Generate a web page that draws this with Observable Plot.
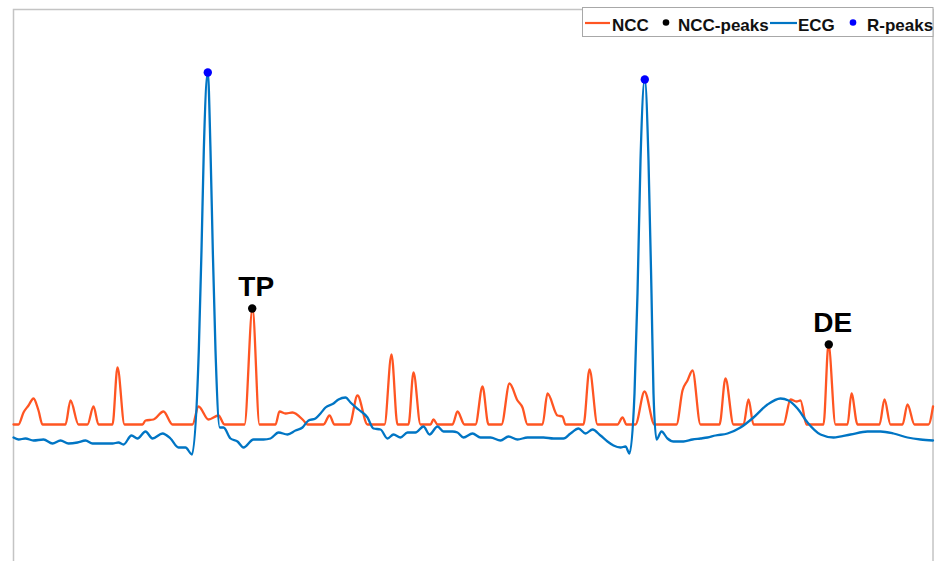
<!DOCTYPE html>
<html><head><meta charset="utf-8">
<script src="https://cdn.jsdelivr.net/npm/d3@7"></script>
<script src="https://cdn.jsdelivr.net/npm/@observablehq/plot@0.6"></script>
<style>
html,body{margin:0;padding:0;overflow:hidden;background:#fff;width:938px;height:561px}
#chart{position:relative;width:938px;height:561px;overflow:hidden}
#legend{position:absolute;left:0;top:0;pointer-events:none}
</style></head><body><div id="chart"></div>
<script>
// NCC series (sample index, value)
const nccT = [0,5,10,15,20,25,29,52,57,65,74,80,85,99,104,111,129,132,140,150,159,179,185,195,205,211,231,239,246,262,266,272,279,290,294,310,316,321,336,344,354,371,378,384,395,400,407,417,420,424,439,444,451,462,469,475,488,496,504,509,514,529,534,544,549,552,570,576,584,604,609,613,622,631,641,663,669,674,679,687,706,712,720,730,735,740,770,777,783,787,793,810,815,822,834,838,844,866,871,877,889,894,901,915,919.5];
const nccV = [0,0,0.12,0.19,0.26,0.14,0,0,0.24,0,0,0.18,0,0,0.57,0,0,0.04,0.05,0.13,0,0,0.18,0.05,0.09,0,0,1.16,0,0,0.13,0.11,0.12,0.04,0,0,0.09,0,0,0.29,0,0,0.70,0,0,0.52,0,0,0.05,0,0,0.13,0,0,0.38,0,0,0.41,0.24,0.17,0,0,0.31,0.09,0.08,0,0,0.55,0,0,0.07,0,0,0.33,0,0,0.34,0.44,0.54,0,0,0.46,0,0,0.25,0,0,0.25,0.23,0.24,0,0,0.80,0,0,0.31,0,0,0.25,0,0,0.20,0,0,0.18];
// ECG series (sample index, value)
const ecgT = [0,5,12,20,30,39,47,55,64,72,79,90,99,105,110,118,124,132,139,149,157,165,172,178.5,185.3,188,190.3,194.3,197,199.3,202,206.3,210,217,224,230,240,250,257,265,274,282,289,295,302,307,312,320,325,332,337,345,354,360,367,374,380,387,394,402,410,416,424,430,439,444,450,459,467,477,487,495,504,514,522,530,540,550,557,565,572,579,587,594,600,607,612,616,621,624,627,631.3,635,638,640,643,648,654,660,670,679,687,694,702,714,727,740,754,767,775,784,794,807,820,837,854,867,880,894,907,919.5];
const ecgV = [-0.13,-0.15,-0.14,-0.16,-0.15,-0.19,-0.16,-0.19,-0.18,-0.16,-0.19,-0.19,-0.19,-0.18,-0.20,-0.11,-0.14,-0.07,-0.14,-0.09,-0.14,-0.23,-0.23,-0.30,0.74,1.74,2.74,3.52,2.74,1.74,0.74,-0.03,-0.03,-0.14,-0.17,-0.23,-0.15,-0.15,-0.14,-0.08,-0.10,-0.06,-0.03,0.04,0.06,0.11,0.17,0.21,0.25,0.27,0.22,0.15,0.07,-0.04,-0.05,-0.14,-0.10,-0.13,-0.08,-0.08,-0.02,-0.10,-0.02,-0.07,-0.07,-0.08,-0.13,-0.09,-0.13,-0.13,-0.16,-0.12,-0.15,-0.13,-0.13,-0.13,-0.14,-0.14,-0.09,-0.04,-0.09,-0.05,-0.11,-0.17,-0.21,-0.23,-0.22,-0.29,0.31,1.31,2.64,3.45,2.64,1.31,0.31,-0.15,-0.07,-0.14,-0.17,-0.17,-0.15,-0.14,-0.13,-0.11,-0.09,-0.03,0.07,0.20,0.26,0.24,0.16,0.02,-0.10,-0.13,-0.10,-0.07,-0.07,-0.09,-0.13,-0.15,-0.16];
// detected peaks
const nccPeakT = [238.7, 815.3];
const nccPeakV = [1.16, 0.80];
const nccPeakLabels = ["TP", "DE"];
const rPeakT = [194.3, 631.3];
const rPeakV = [3.52, 3.45];
// legend
const legendLabels = ["NCC", "NCC-peaks", "ECG", "R-peaks"];

const ORANGE = "#ff5522", BLUE = "#0075c4";
const ncc = nccT.map((t, i) => ({t, v: nccV[i]}));
const ecg = ecgT.map((t, i) => ({t, v: ecgV[i]}));
const nccPeaks = nccPeakT.map((t, i) => ({t, v: nccPeakV[i], label: nccPeakLabels[i]}));
const rPeaks = rPeakT.map((t, i) => ({t, v: rPeakV[i]}));

const plot = Plot.plot({
  width: 938, height: 580,
  marginTop: 9, marginLeft: 13, marginRight: 5.5, marginBottom: 0,
  x: {domain: [0, 919.5], axis: null},
  y: {domain: [-1.56, 4.15], axis: null},
  style: {fontFamily: "'Liberation Sans', Arial, sans-serif", background: "white"},
  marks: [
    Plot.frame({stroke: "#c4c4c4", strokeWidth: 1.5}),
    Plot.line(ncc, {x: "t", y: "v", stroke: ORANGE, strokeWidth: 2.3, curve: "monotone-x"}),
    Plot.line(ecg, {x: "t", y: "v", stroke: BLUE, strokeWidth: 2.3, curve: "monotone-x"}),
    Plot.dot(nccPeaks, {x: "t", y: "v", r: 4.2, fill: "black"}),
    Plot.dot(rPeaks, {x: "t", y: "v", r: 4.2, fill: "#0000ff"}),
    Plot.text(nccPeaks, {x: "t", y: "v", text: "label", fontSize: 28, fontWeight: "bold",
      lineAnchor: "bottom", dy: -13, dx: 4, fill: "black"})
  ]
});
const chart = document.getElementById("chart");
chart.appendChild(plot);

// legend overlay (inside the frame, top-right)
const lg = d3.select(chart).append("svg").attr("id", "legend")
  .attr("width", 938).attr("height", 561)
  .style("font-family", "'Liberation Sans', Arial, sans-serif");
lg.append("rect").attr("x", 582.5).attr("y", 7.5).attr("width", 350.5).attr("height", 29)
  .attr("fill", "white").attr("stroke", "#a8a8a8").attr("stroke-width", 1);
const items = [
  {type: "line", color: ORANGE, x0: 585, x1: 610, tx: 612},
  {type: "dot", color: "black", cx: 666, tx: 678},
  {type: "line", color: BLUE, x0: 770, x1: 797, tx: 798},
  {type: "dot", color: "#0000ff", cx: 853, tx: 867}
];
items.forEach((it, i) => {
  if (it.type === "line") {
    lg.append("line").attr("x1", it.x0).attr("x2", it.x1).attr("y1", 23).attr("y2", 23)
      .attr("stroke", it.color).attr("stroke-width", 2.2);
  } else {
    lg.append("circle").attr("cx", it.cx).attr("cy", 22.5).attr("r", 3.3).attr("fill", it.color);
  }
  lg.append("text").attr("x", it.tx).attr("y", 30.5).attr("font-size", 17).attr("font-weight", "bold")
    .attr("fill", "#111").text(legendLabels[i]);
});
</script></body></html>
